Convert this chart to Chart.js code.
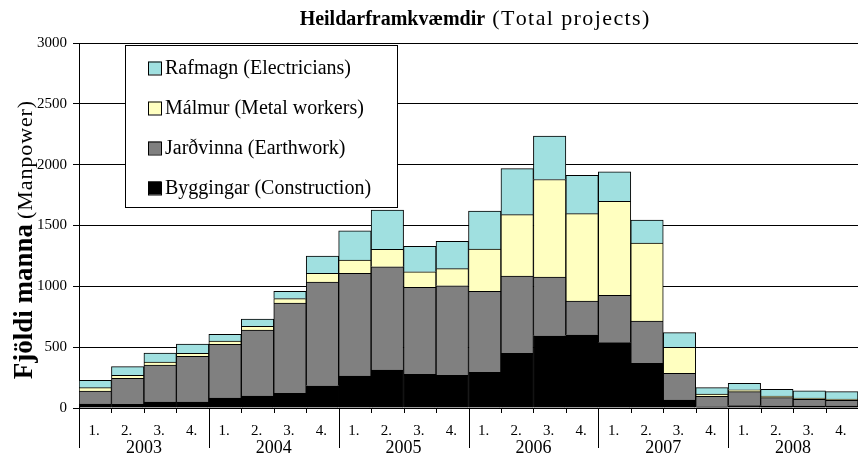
<!DOCTYPE html>
<html>
<head>
<meta charset="utf-8">
<script src="https://cdn.jsdelivr.net/npm/chart.js@4"></script>
<style>
html,body{margin:0;padding:0;background:#fff;}
#wrap{position:relative;width:858px;height:466px;}
</style>
</head>
<body>
<div id="wrap"><canvas id="c" width="858" height="466"></canvas></div>
<script>
// ---- data ----
const quarters = ['1.','2.','3.','4.','1.','2.','3.','4.','1.','2.','3.','4.','1.','2.','3.','4.','1.','2.','3.','4.','1.','2.','3.','4.'];
const years = ['2003','2004','2005','2006','2007','2008'];
const construction = [33,30,49,49, 82,99,121,183, 263,312,277,269, 293,449,594,602, 537,367,66,10, 20,15,15,15];
const earthwork    = [107,214,304,376, 441,542,742,852, 844,849,715,736, 666,636,482,277, 389,348,219,85, 115,70,56,48];
const metal        = [27,24,25,24, 27,30,36,72, 109,143,128,140, 348,504,802,718, 772,641,214,20, 15,12,10,10];
const electric     = [61,72,74,77, 55,60,60,142, 241,323,209,225, 312,378,357,315, 244,189,120,52, 53,56,61,61];
const seriesNames = ['Byggingar (Construction)','Jarðvinna (Earthwork)','Málmur (Metal workers)','Rafmagn (Electricians)'];
const titleBold = 'Heildarframkvæmdir';
const titleNormal = '(Total projects)';
const yTitleBold = 'Fjöldi manna';
const yTitleNormal = '(Manpower)';
const yMax = 3000, yStep = 500;

const SERIF = '"Liberation Serif","Times New Roman",serif';
const colors = ['#000000','#808080','#FFFFC0','#A0E0E0'];

function spacedText(ctx, text, x, y, spacing){
  let cx = x;
  for (const ch of text) {
    ctx.fillText(ch, cx, y);
    cx += ctx.measureText(ch).width + spacing;
  }
  return cx - x - spacing;
}
function spacedWidth(ctx, text, spacing){
  let w = 0;
  for (const ch of text) w += ctx.measureText(ch).width + spacing;
  return w - spacing;
}

const decor = {
  id:'decor',
  afterDraw(chart){
    const ctx = chart.ctx, ca = chart.chartArea, xs = chart.scales.x;
    ctx.save();
    // title
    ctx.fillStyle = '#000';
    ctx.textBaseline = 'alphabetic';
    ctx.textAlign = 'left';
    ctx.font = 'bold 20px ' + SERIF;
    const w1 = ctx.measureText(titleBold).width;
    ctx.font = '22px ' + SERIF;
    const sp1 = 1.4;
    const w2 = spacedWidth(ctx, titleNormal, sp1);
    const gap = 7;
    const cx = (ca.left + ca.right)/2 + 6;
    let sx = cx - (w1 + gap + w2)/2;
    ctx.font = 'bold 20px ' + SERIF;
    ctx.fillText(titleBold, sx, 25);
    ctx.font = '22px ' + SERIF;
    spacedText(ctx, titleNormal, sx + w1 + gap, 25, sp1);

    // y title
    ctx.save();
    ctx.translate(32, 240);
    ctx.rotate(-Math.PI/2);
    ctx.font = 'bold 27px ' + SERIF;
    const b1 = ctx.measureText(yTitleBold).width;
    ctx.font = '22px ' + SERIF;
    const sp2 = 0.9;
    const b2 = spacedWidth(ctx, yTitleNormal, sp2);
    const g2 = 5;
    let ty = -(b1 + g2 + b2)/2;
    ctx.font = 'bold 27px ' + SERIF;
    ctx.fillText(yTitleBold, ty, 0);
    ctx.font = '22px ' + SERIF;
    spacedText(ctx, yTitleNormal, ty + b1 + g2, 0, sp2);
    ctx.restore();

    // x axis ticks and labels
    const n = quarters.length;
    const bw = (ca.right - ca.left) / n;
    ctx.strokeStyle = '#000';
    ctx.lineWidth = 1;
    for (let i = 0; i <= n; i++) {
      const x = Math.round(ca.left + i*bw) + 0.5;
      const isYear = i % 4 === 0;
      if (x > chart.width) continue;
      ctx.beginPath();
      ctx.moveTo(x, ca.bottom);
      ctx.lineTo(x, ca.bottom + (isYear ? 40 : 5));
      ctx.stroke();
    }
    ctx.textAlign = 'center';
    ctx.textBaseline = 'middle';
    ctx.font = '15px ' + SERIF;
    for (let i = 0; i < n; i++) {
      ctx.fillText(quarters[i], xs.getPixelForValue(i) - 1, ca.bottom + 23);
    }
    ctx.font = '18px ' + SERIF;
    for (let k = 0; k < years.length; k++) {
      const x = (xs.getPixelForValue(k*4) + xs.getPixelForValue(k*4+3)) / 2;
      ctx.fillText(years[k], x, ca.bottom + 40);
    }

    // legend
    const lx = 125.5, ly = 45.5, lw = 272, lh = 162;
    ctx.fillStyle = '#fff';
    ctx.fillRect(lx, ly, lw, lh);
    ctx.strokeStyle = '#000';
    ctx.strokeRect(lx, ly, lw, lh);
    ctx.textAlign = 'left';
    ctx.textBaseline = 'middle';
    ctx.font = '20px ' + SERIF;
    const ds = chart.data.datasets;
    for (let r = 0; r < ds.length; r++) {
      const d = ds[ds.length - 1 - r];
      const cy = 68 + r*40;
      ctx.fillStyle = d.backgroundColor;
      ctx.fillRect(148, cy - 6.5, 13, 13);
      ctx.strokeStyle = '#000';
      ctx.strokeRect(148.5, cy - 6, 13, 13);
      ctx.fillStyle = '#000';
      ctx.fillText(d.label, 165, cy + 1);
    }
    ctx.restore();
  }
};

const seriesData = [construction, earthwork, metal, electric];
new Chart(document.getElementById('c'), {
  type: 'bar',
  data: {
    labels: quarters.map((q,i) => years[Math.floor(i/4)] + ' ' + q),
    datasets: seriesData.map((arr, i) => ({
      label: seriesNames[i],
      data: arr,
      backgroundColor: colors[i],
      borderColor: '#000',
      borderWidth: 1,
      barPercentage: 1,
      categoryPercentage: 1
    }))
  },
  options: {
    responsive: false,
    animation: false,
    devicePixelRatio: 1,
    layout: { padding: { top: 43, left: 0, right: 0, bottom: 0 } },
    plugins: { legend: { display: false }, title: { display: false }, tooltip: { enabled: false } },
    scales: {
      x: {
        stacked: true,
        ticks: { display: false },
        grid: { display: false },
        border: { display: false },
        afterFit(s){ s.height = 58; }
      },
      y: {
        stacked: true,
        min: 0, max: yMax,
        ticks: { stepSize: yStep, color: '#000', font: { family: SERIF, size: 15 }, padding: 6,
                 callback: v => String(v) },
        grid: { color: '#000', lineWidth: 1, tickLength: 6, drawTicks: true },
        border: { display: true, color: '#000', width: 1 },
        afterFit(s){ s.width = 79; }
      }
    }
  },
  plugins: [decor]
});
</script>
</body>
</html>
